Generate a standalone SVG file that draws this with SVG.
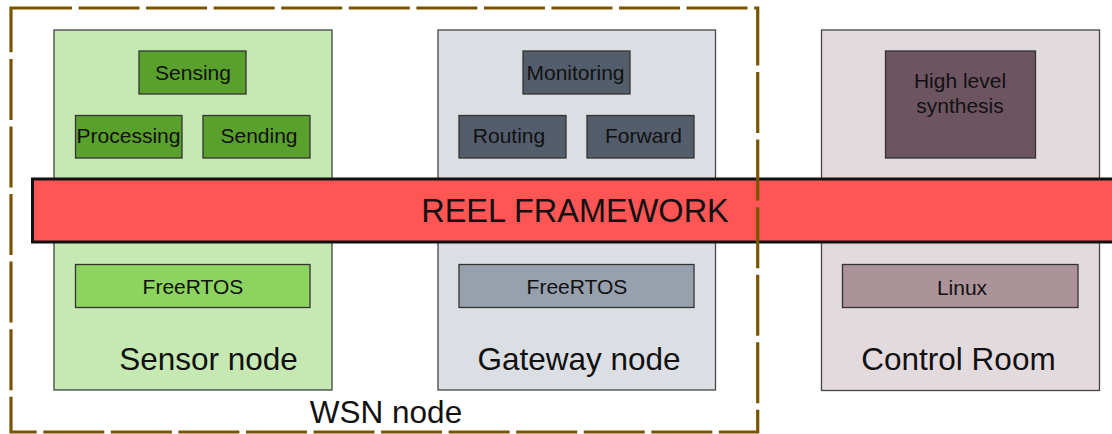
<svg xmlns="http://www.w3.org/2000/svg" width="1112" height="434" viewBox="0 0 1112 434">
  <style>
    text { font-family: "Liberation Sans", Arial, sans-serif; fill: #111; text-anchor: middle; }
    .small { font-size: 21px; }
    .big { font-size: 31.5px; }
    .title { font-size: 32.5px; }
    .panel { stroke: #444; stroke-width: 1.3; }
    .box { stroke: #333; stroke-width: 1.3; }
    .sensor-bg { fill: #c6e9b4; }
    .sensor-task { fill: #5aa02c; }
    .sensor-os { fill: #8dd35f; }
    .gw-bg { fill: #dbdee3; }
    .gw-task { fill: #535d6c; }
    .gw-os { fill: #97a0ad; }
    .cr-bg { fill: #e3dade; }
    .cr-task { fill: #6c5461; }
    .cr-os { fill: #ac9399; }
  </style>

  <rect width="1112" height="434" fill="#ffffff"/>

  <!-- Sensor node -->
  <g id="sensor-node">
    <rect class="panel sensor-bg" x="54" y="30" width="278" height="360"/>
    <rect class="box sensor-task" x="139" y="51" width="107" height="43"/>
    <text class="small" x="193" y="80">Sensing</text>
    <rect class="box sensor-task" x="75.5" y="115.5" width="106.5" height="42.5"/>
    <text class="small" x="128.5" y="143">Processing</text>
    <rect class="box sensor-task" x="203" y="115.5" width="107" height="42.5"/>
    <text class="small" x="259" y="143">Sending</text>
    <rect class="box sensor-os" x="75.5" y="264.5" width="234.5" height="43"/>
    <text class="small" x="193" y="294">FreeRTOS</text>
    <text class="big" x="208.5" y="370">Sensor node</text>
  </g>

  <!-- Gateway node -->
  <g id="gateway-node">
    <rect class="panel gw-bg" x="438" y="30" width="277.5" height="360"/>
    <rect class="box gw-task" x="523" y="51" width="107" height="43"/>
    <text class="small" x="575.5" y="80">Monitoring</text>
    <rect class="box gw-task" x="459" y="115.5" width="107" height="42.5"/>
    <text class="small" x="509" y="143">Routing</text>
    <rect class="box gw-task" x="587" y="115.5" width="107" height="42.5"/>
    <text class="small" x="643.5" y="143">Forward</text>
    <rect class="box gw-os" x="459" y="264.5" width="235" height="43"/>
    <text class="small" x="577" y="294">FreeRTOS</text>
    <text class="big" x="579" y="370">Gateway node</text>
  </g>

  <!-- Control room -->
  <g id="control-room">
    <rect class="panel cr-bg" x="821.5" y="30" width="278" height="360.5"/>
    <rect class="box cr-task" x="885.5" y="51" width="150" height="107"/>
    <text class="small" x="960" y="88">High level</text>
    <text class="small" x="960" y="113">synthesis</text>
    <rect class="box cr-os" x="842.5" y="264.5" width="235.5" height="43"/>
    <text class="small" x="962" y="294.5">Linux</text>
    <text class="big" x="958.5" y="370">Control Room</text>
  </g>

  <!-- Framework band across all nodes -->
  <g id="reel-framework">
    <rect x="32.5" y="179" width="1085" height="63" fill="#ff5555" stroke="#111" stroke-width="3"/>
    <text class="title" x="575" y="222">REEL FRAMEWORK</text>
  </g>

  <!-- WSN boundary -->
  <g id="wsn-node">
    <path d="M11,8 H757.7 V432 H11 Z" fill="none" stroke="#7a5500" stroke-width="3.2" stroke-dasharray="61 6.56"/>
    <text class="big" x="386" y="423">WSN node</text>
  </g>

  <g id="connectors"/>
</svg>
